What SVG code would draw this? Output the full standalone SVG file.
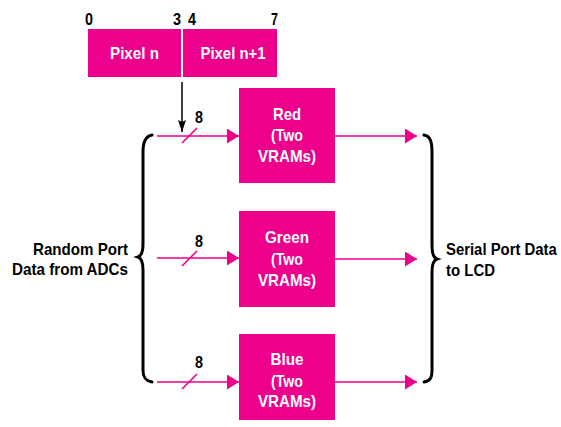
<svg xmlns="http://www.w3.org/2000/svg" width="561" height="427" viewBox="0 0 561 427">
<style>
text{font-family:"Liberation Sans",Arial,sans-serif;font-weight:bold;font-size:17px}
.w{fill:#fff;text-anchor:middle}
.k{fill:#000}
.box{fill:#EC008C}
.pl{stroke:#EC008C;stroke-width:1.6;fill:none}
.br{stroke:#000;stroke-width:3;fill:none;stroke-linecap:round}
</style>
<defs>
<marker id="pa" markerUnits="userSpaceOnUse" markerWidth="12" markerHeight="15" refX="12" refY="7.5" orient="auto">
<path d="M0,0 L12,7.5 L0,15 z" fill="#EC008C"/>
</marker>
<marker id="ka" markerUnits="userSpaceOnUse" markerWidth="12" markerHeight="8" refX="12" refY="4" orient="auto">
<path d="M0,0 L12,4 L0,8 L2,4 z" fill="#000"/>
</marker>
</defs>
<g id="bits">
<text class="k" x="85" y="25" textLength="8" lengthAdjust="spacingAndGlyphs">0</text>
<text class="k" x="173" y="25" textLength="8" lengthAdjust="spacingAndGlyphs">3</text>
<text class="k" x="188" y="25" textLength="8" lengthAdjust="spacingAndGlyphs">4</text>
<text class="k" x="271" y="25" textLength="7" lengthAdjust="spacingAndGlyphs">7</text>
</g>
<g id="pixel-n">
<rect class="box" x="88" y="29" width="93" height="48"/>
<text class="w" x="134.5" y="59" textLength="49" lengthAdjust="spacingAndGlyphs">Pixel n</text>
</g>
<g id="pixel-n1">
<rect class="box" x="183" y="29" width="94" height="48"/>
<text class="w" x="233" y="59" textLength="65" lengthAdjust="spacingAndGlyphs">Pixel n+1</text>
</g>
<g id="red">
<rect class="box" x="239" y="88" width="96" height="95"/>
<text class="w" x="287" y="120" textLength="28" lengthAdjust="spacingAndGlyphs">Red</text>
<text class="w" x="287" y="141" textLength="32" lengthAdjust="spacingAndGlyphs">(Two</text>
<text class="w" x="287" y="162" textLength="58" lengthAdjust="spacingAndGlyphs">VRAMs)</text>
</g>
<g id="green">
<rect class="box" x="239" y="211" width="96" height="96"/>
<text class="w" x="287" y="243" textLength="44" lengthAdjust="spacingAndGlyphs">Green</text>
<text class="w" x="287" y="265" textLength="32" lengthAdjust="spacingAndGlyphs">(Two</text>
<text class="w" x="287" y="286" textLength="58" lengthAdjust="spacingAndGlyphs">VRAMs)</text>
</g>
<g id="blue">
<rect class="box" x="239" y="334" width="96" height="86"/>
<text class="w" x="287" y="365" textLength="33" lengthAdjust="spacingAndGlyphs">Blue</text>
<text class="w" x="287" y="387" textLength="32" lengthAdjust="spacingAndGlyphs">(Two</text>
<text class="w" x="287" y="407" textLength="58" lengthAdjust="spacingAndGlyphs">VRAMs)</text>
</g>
<g id="input-label">
<text class="k" x="33" y="255" textLength="95" lengthAdjust="spacingAndGlyphs">Random Port</text>
<text class="k" x="12" y="275" textLength="116" lengthAdjust="spacingAndGlyphs">Data from ADCs</text>
<path class="br" d="M152,135 C146,136 143,141 143,152 L143,244 C143,252 141,256 138,257 C141,258 143,262 143,270 L143,370 C143,378 146,381 152,382"/>
</g>
<g id="output-label">
<text class="k" transform="translate(446,255) scale(0.875,1)" x="0" y="0">Serial Port Data</text>
<text class="k" x="446" y="276" textLength="49" lengthAdjust="spacingAndGlyphs">to LCD</text>
<path class="br" d="M424,135 C430,136 432,141 432,152 L432,246 C432,254 434,258 437,259 C434,260 432,264 432,272 L432,370 C432,378 430,381 424,382"/>
</g>
<g id="connectors">
<line x1="182" y1="82" x2="182" y2="132" stroke="#000" stroke-width="1.5" marker-end="url(#ka)"/>
<line class="pl" x1="157" y1="136" x2="239" y2="136" marker-end="url(#pa)"/>
<line class="pl" x1="157" y1="258" x2="239" y2="258" marker-end="url(#pa)"/>
<line class="pl" x1="157" y1="382" x2="239" y2="382" marker-end="url(#pa)"/>
<line class="pl" x1="182" y1="143" x2="197" y2="128"/>
<line class="pl" x1="182" y1="266" x2="197" y2="251"/>
<line class="pl" x1="182" y1="389" x2="197" y2="374"/>
<text class="k" x="195" y="123" textLength="8" lengthAdjust="spacingAndGlyphs">8</text>
<text class="k" x="195" y="247" textLength="8" lengthAdjust="spacingAndGlyphs">8</text>
<text class="k" x="195" y="368" textLength="8" lengthAdjust="spacingAndGlyphs">8</text>
<line class="pl" x1="335" y1="136" x2="417" y2="136" marker-end="url(#pa)"/>
<line class="pl" x1="335" y1="259" x2="417" y2="259" marker-end="url(#pa)"/>
<line class="pl" x1="335" y1="382" x2="417" y2="382" marker-end="url(#pa)"/>
</g>
</svg>
